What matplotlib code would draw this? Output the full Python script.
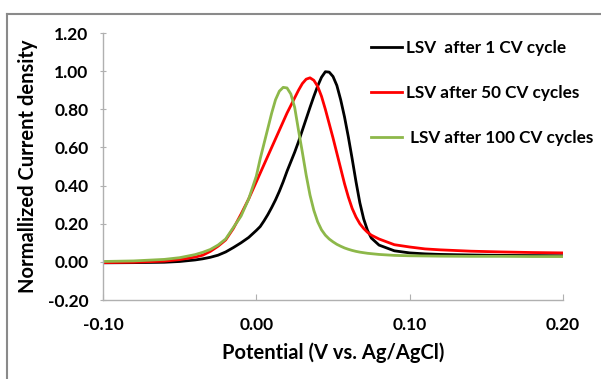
import matplotlib.pyplot as plt
from matplotlib.lines import Line2D

# === DATA ===
potential = [-0.100, -0.080, -0.060, -0.050, -0.040, -0.035, -0.030, -0.025,
             -0.020, -0.015, -0.010, -0.005, 0.000, 0.0025, 0.005, 0.0075,
             0.010, 0.0125, 0.015, 0.0175, 0.020, 0.0225, 0.025, 0.0275,
             0.030, 0.0325, 0.035, 0.0375, 0.040, 0.0425, 0.045, 0.0475,
             0.050, 0.0525, 0.055, 0.0575, 0.060, 0.0625, 0.065, 0.0675,
             0.070, 0.0725, 0.075, 0.080, 0.090, 0.100, 0.110, 0.120,
             0.140, 0.160, 0.180, 0.200]

cycle_1 = [-0.005, -0.004, -0.002, 0.002, 0.010, 0.016, 0.024, 0.035,
           0.052, 0.075, 0.100, 0.128, 0.165, 0.185, 0.215, 0.248,
           0.285, 0.325, 0.370, 0.420, 0.475, 0.525, 0.575, 0.630,
           0.690, 0.750, 0.810, 0.868, 0.922, 0.968, 0.997, 0.995,
           0.972, 0.925, 0.850, 0.760, 0.655, 0.540, 0.420, 0.310,
           0.225, 0.165, 0.125, 0.088, 0.058, 0.047, 0.042, 0.039,
           0.036, 0.034, 0.033, 0.032]

cycle_50 = [-0.004, -0.002, 0.004, 0.012, 0.025, 0.035, 0.055, 0.082,
            0.115, 0.175, 0.250, 0.330, 0.420, 0.465, 0.510, 0.555,
            0.600, 0.645, 0.690, 0.735, 0.780, 0.820, 0.860, 0.900,
            0.935, 0.958, 0.965, 0.952, 0.920, 0.868, 0.800, 0.725,
            0.650, 0.570, 0.490, 0.410, 0.340, 0.280, 0.235, 0.200,
            0.175, 0.155, 0.140, 0.120, 0.090, 0.078, 0.068, 0.063,
            0.056, 0.052, 0.049, 0.047]

cycle_100 = [0.002, 0.005, 0.013, 0.022, 0.038, 0.050, 0.065, 0.088,
             0.120, 0.180, 0.240, 0.330, 0.450, 0.540, 0.620, 0.700,
             0.780, 0.850, 0.895, 0.915, 0.912, 0.880, 0.810, 0.690,
             0.575, 0.455, 0.350, 0.270, 0.210, 0.168, 0.140, 0.120,
             0.105, 0.092, 0.082, 0.073, 0.066, 0.060, 0.055, 0.051,
             0.048, 0.045, 0.043, 0.039, 0.034, 0.032, 0.031, 0.030,
             0.029, 0.029, 0.028, 0.028]

labels = ["LSV  after 1 CV cycle", "LSV after 50 CV cycles", " LSV after 100 CV cycles"]
colors = ["#000000", "#ff0000", "#8db84a"]

x_ticks = [-0.10, 0.00, 0.10, 0.20]
y_ticks = [-0.20, 0.00, 0.20, 0.40, 0.60, 0.80, 1.00, 1.20]

plt.rcParams['font.family'] = ['Lato', 'DejaVu Sans']
plt.rcParams['font.weight'] = 'bold'

fig = plt.figure(figsize=(6.01, 3.79), dpi=100)
ax = fig.add_axes([0.1714, 0.2084, 0.7654, 0.7045])

for series, color, label in zip([cycle_1, cycle_50, cycle_100], colors, labels):
    ax.plot(potential, series, color=color, lw=2.0, label=label)

ax.set_xlim(-0.10, 0.20)
ax.set_ylim(-0.20, 1.20)
ax.set_xticks(x_ticks)
ax.set_yticks(y_ticks)
ax.set_xticklabels([f"{t:.2f}" for t in x_ticks])
ax.set_yticklabels([f"{t:.2f}" for t in y_ticks])

for side in ["top", "right"]:
    ax.spines[side].set_visible(False)
for side in ["left", "bottom"]:
    ax.spines[side].set_color("#b0b0b0")
    ax.spines[side].set_linewidth(1.0)

ax.tick_params(axis="x", direction="in", length=4, color="#b0b0b0",
               labelsize=12.5, pad=12)
ax.tick_params(axis="y", direction="inout", length=5, color="#b0b0b0",
               labelsize=12.5, pad=8)

ax.set_xlabel("Potential (V vs. Ag/AgCl)", fontsize=14.5, fontweight="bold", labelpad=7)
ax.set_ylabel("Normallized Current density", fontsize=14.5, fontweight="bold", labelpad=7)

leg = ax.legend(loc="upper left", bbox_to_anchor=(0.55, 1.03), frameon=False,
                fontsize=12.3, handlelength=1.8, handletextpad=0.2,
                labelspacing=1.68)
for text in leg.get_texts():
    text.set_fontweight("bold")

# outer chart frame (left and top edges)
fig.add_artist(Line2D([7 / 601, 7 / 601], [0, 1 - 13.5 / 379],
                      color="#8a8a8a", lw=1.5, transform=fig.transFigure))
fig.add_artist(Line2D([7 / 601, 1], [1 - 13.5 / 379, 1 - 13.5 / 379],
                      color="#8a8a8a", lw=1.5, transform=fig.transFigure))

fig.savefig("out.png", dpi=100)
